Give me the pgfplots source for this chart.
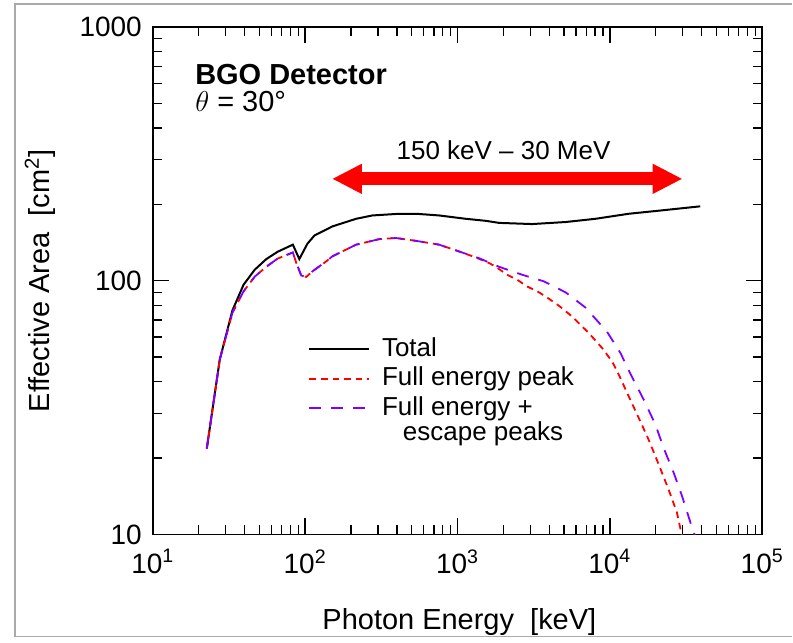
\documentclass[border=0pt]{standalone}
\usepackage{fontspec}
\setmainfont{Liberation Sans}
\usepackage{pgfplots}
\pgfplotsset{compat=1.18}
\usetikzlibrary{arrows.meta}
\definecolor{fepurple}{RGB}{128,0,255}
\definecolor{framegray}{RGB}{170,170,170}

\pgfplotstableread{
E A
22.6 21.8
27.5 48.9
33.3 76.4
39.4 96.4
46.6 110.4
55.6 121.7
65.9 130
83 138.7
91.5 121.7
103.5 140
115 150.7
151 163.7
216 175.4
276 180.8
415 183.6
561 183.2
757 180.8
1132 175.4
1531 172.2
1872 169
3083 167.2
5117 170.3
8051 175.4
13300 183.6
21880 189.3
39170 196.4
}\total

\pgfplotstableread{
E A
22.6 21.8
27.5 48.9
33.3 74.8
39.4 90.8
46.6 103.7
55.8 113.7
65.9 122.2
83 129.2
87.3 117.8
94.2 104.8
101.6 103.5
111.7 108.9
137.3 119.1
151 124.8
216 138.7
307 145.9
395 147.3
533 143.6
757 138.7
1023 130.4
1317 123.5
1610 117.4
1782 113.5
2113 105.6
2456 101
2855 95
3423 90
3981 84.9
4627 79.7
5649 72.3
7271 62.2
8892 54.3
10330 48.1
11430 42.7
13300 35
15460 28.8
17980 23.6
20900 18.9
24320 15.0
27550 12.2
29440 10.15
31000 9
}\fullpeak

\pgfplotstableread{
E A
22.6 21.8
27.5 48.9
33.3 74.8
39.4 90.8
46.6 103.7
55.8 113.7
65.9 122.2
83 129.2
87.3 117.8
94.2 104.8
101.6 103.5
111.7 108.9
137.3 119.1
151 124.8
216 138.7
307 145.9
395 147.3
533 143.6
757 138.7
1023 130.4
1383 122.7
1872 113.5
2649 105.6
3690 99.4
5117 90
6918 78.4
7271 75.7
9550 63.1
11730 51.9
13900 42
16670 34
19900 27.1
22550 21.9
26240 17.5
29720 14.2
34200 10.9
37000 9.5
}\escpeak

\begin{document}
\begin{tikzpicture}
\begin{axis}[
  at={(0,0)}, anchor=south west,
  scale only axis, width=305pt, height=254pt,
  xmode=log, ymode=log,
  xmin=10, xmax=100000, ymin=10, ymax=1000,
  xtick={10,100,1000,10000,100000},
  xticklabels={10\textsuperscript{1},10\textsuperscript{2},10\textsuperscript{3},10\textsuperscript{4},10\textsuperscript{5}},
  minor xtick={20,30,40,50,60,70,80,90,200,300,400,500,600,700,800,900,2000,3000,4000,5000,6000,7000,8000,9000,20000,30000,40000,50000,60000,70000,80000,90000},
  ytick={10,100,1000}, yticklabels={10,100,1000},
  minor ytick={20,30,40,50,60,70,80,90,200,300,400,500,600,700,800,900},
  axis line style={line width=0.8pt},
  every tick/.style={black, line width=0.7pt},
  major tick length=8pt, minor tick length=4.5pt,
  tick align=inside,
  clip=true,
  ticklabel style={font=\fontsize{14}{16}\selectfont},
  xticklabel style={yshift=-4pt},
  yticklabel style={xshift=-2pt},
  label style={font=\fontsize{14.5}{17}\selectfont},
  xlabel={Photon Energy\ \ [keV]},
  ylabel={Effective Area\ \ [cm\textsuperscript{2}]},
  xlabel style={at={(axis description cs:0.503,-0.173)}, anchor=center},
  ylabel style={at={(axis description cs:-0.185,0.5)}, anchor=center},
]
\addplot[draw=black, line width=1pt] table[x=E,y=A] {\total};
\addplot[draw=red, line width=0.9pt, dash pattern=on 3.3pt off 2.5pt] table[x=E,y=A] {\fullpeak};
\addplot[draw=fepurple, line width=0.9pt, dash pattern=on 6pt off 5pt] table[x=E,y=A] {\escpeak};

% legend samples
\addplot[draw=black, line width=1pt] coordinates {(106.7,53.99) (263.6,53.99)};
\addplot[draw=red, line width=1pt, dash pattern=on 3.3pt off 2.5pt] coordinates {(106.7,41.14) (263.6,41.14)};
\addplot[draw=fepurple, line width=1pt, dash pattern=on 6pt off 5pt] coordinates {(106.7,31.62) (263.6,31.62)};
\begin{scope}[every node/.style={anchor=base west, inner sep=0pt, font=\fontsize{13}{15}\selectfont}]
\node at (axis description cs:0.3754,0.3504) {Total};
\node at (axis description cs:0.3754,0.2933) {Full energy peak};
\node at (axis description cs:0.3754,0.2343) {Full energy +};
\node at (axis description cs:0.4098,0.185) {escape peaks};
\end{scope}

\draw[red, line width=6.5pt, {Triangle[length=15pt,width=14pt]}-{Triangle[length=15pt,width=14pt]}] (axis cs:150,252) -- (axis cs:30000,252);
\node[font=\fontsize{13}{15}\selectfont] at (axis cs:2005,328) {150 keV \textendash{} 30 MeV};
\node[anchor=west, inner sep=0pt, font=\bfseries\fontsize{14.5}{17}\selectfont] at (axis description cs:0.069,0.906) {BGO Detector};
\node[anchor=west, inner sep=0pt, font=\fontsize{14.5}{17}\selectfont] at (axis description cs:0.069,0.854) {$\theta$ = 30°};
\end{axis}
\draw[framegray, line width=0.8pt] (320pt,265.5pt) -- (-69pt,265.5pt) -- (-69pt,-51pt) -- (320pt,-51pt);
\path (-76.5pt,-53pt) rectangle (320pt,267.5pt);
\end{tikzpicture}
\end{document}
